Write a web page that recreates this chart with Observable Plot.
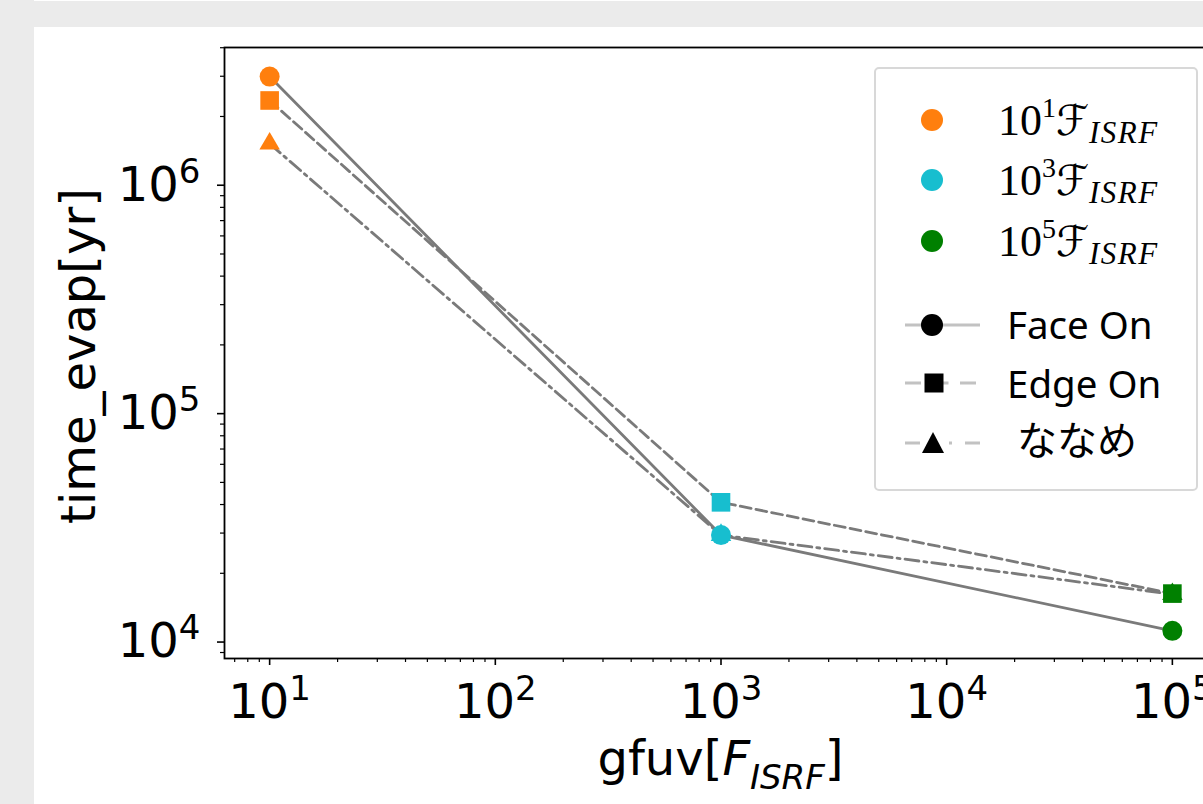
<!DOCTYPE html>
<html><head><meta charset="utf-8">
<script src="https://cdn.jsdelivr.net/npm/d3@7"></script>
<script src="https://cdn.jsdelivr.net/npm/@observablehq/plot@0.6"></script>
<style>
html,body{margin:0;padding:0;width:1203px;height:804px;overflow:hidden;background:#ebebeb;}
#topline{position:absolute;left:34px;top:0;width:1169px;height:1px;background:#fff;}
#panel{position:absolute;left:34px;top:27px;width:1169px;height:777px;background:#fff;}
#chart{position:absolute;left:0;top:0;width:1300px;height:804px;}
#chart svg{max-width:none !important;width:1300px !important;height:804px !important;}
</style></head><body>
<div id="topline"></div><div id="panel"></div><div id="chart"></div>
<script>
// ---- data ----
const gfuv = [10, 1000, 100000];
const faceOn = [2.99e6, 2.94e4, 1.12e4];
const edgeOn = [2.35e6, 4.09e4, 1.63e4];
const naname = [1.52e6, 2.94e4, 1.62e4];
const seriesNames = ["Face On", "Edge On", "ななめ"];
const levelColors = ["#ff7f0e", "#17becf", "#008000"];
const levelExponents = ["1", "3", "5"];
const xMajorTicks = [10, 100, 1000, 10000, 100000];
const yMajorTicks = [1e4, 1e5, 1e6];
const xLabelText = "gfuv[";
const yLabelText = "time_evap[yr]";

const xDomain = [Math.pow(10, 0.8), Math.pow(10, 5.2)];
const yDomain = [Math.pow(10, 3.928), Math.pow(10, 6.603)];

function minorTicks(domain) {
  const out = [];
  for (let e = -1; e <= 7; e++) for (let m = 2; m <= 9; m++) {
    const v = m * Math.pow(10, e);
    if (v >= domain[0] && v <= domain[1]) out.push(v);
  }
  return out;
}
const xMinorTicks = minorTicks(xDomain);
const yMinorTicks = minorTicks(yDomain);

const seriesValues = [faceOn, edgeOn, naname];
const rows = [];
seriesValues.forEach((vals, s) => vals.forEach((v, i) => rows.push({x: gfuv[i], y: v, series: seriesNames[s], level: i})));
const bySeries = name => rows.filter(d => d.series === name);

const lineColor = "#7a7a7a";
const supFmt = d => "10^" + Math.round(Math.log10(d));

const W = 1300, H = 804;
const plot = Plot.plot({
  width: W, height: H,
  marginLeft: 224, marginRight: W - 1217, marginTop: 47, marginBottom: H - 658,
  style: {background: "transparent", fontFamily: "DejaVu Sans", fontSize: "48px", color: "black", overflow: "visible", maxWidth: "none"},
  x: {type: "log", domain: xDomain, axis: null, label: null},
  y: {type: "log", domain: yDomain, axis: null, label: null},
  color: {type: "identity"},
  marks: [
    Plot.line(bySeries("Face On"), {x: "x", y: "y", stroke: lineColor, strokeWidth: 2.8}),
    Plot.line(bySeries("Edge On"), {x: "x", y: "y", stroke: lineColor, strokeWidth: 2.8, strokeDasharray: "11,5"}),
    Plot.line(bySeries("ななめ"), {x: "x", y: "y", stroke: lineColor, strokeWidth: 2.8, strokeDasharray: "14,5,3,5"}),
    Plot.dot(bySeries("ななめ"), {x: "x", y: "y", symbol: "triangle", r: 7.6, fill: d => levelColors[d.level], stroke: null}),
    Plot.dot(bySeries("Edge On"), {x: "x", y: "y", symbol: "square", r: 10.5, fill: d => levelColors[d.level], stroke: null}),
    Plot.dot(bySeries("Face On"), {x: "x", y: "y", symbol: "circle", r: 10, fill: d => levelColors[d.level], stroke: null}),
    Plot.frame({stroke: "black", strokeWidth: 1.8}),
    Plot.axisX({ticks: xMajorTicks, tickFormat: supFmt, anchor: "bottom", tickSize: 7, tickPadding: 18, strokeWidth: 1.6, fontSize: 48, label: null}),
    Plot.axisX({ticks: xMinorTicks, tickFormat: () => "", anchor: "bottom", tickSize: 4, strokeWidth: 1.2, label: null}),
    Plot.axisY({ticks: yMajorTicks, tickFormat: supFmt, anchor: "left", tickSize: 7, tickPadding: 17, strokeWidth: 1.6, fontSize: 48, label: null}),
    Plot.axisY({ticks: yMinorTicks, tickFormat: () => "", anchor: "left", tickSize: 4, strokeWidth: 1.2, label: null})
  ]
});
document.getElementById("chart").appendChild(plot);

// superscripts in tick labels
const svg = d3.select(plot);
svg.selectAll("text").each(function() {
  const t = this.textContent;
  const m = /^10\^(\d+)$/.exec(t);
  if (!m) return;
  while (this.firstChild) this.removeChild(this.firstChild);
  this.appendChild(document.createTextNode("10"));
  const sp = document.createElementNS("http://www.w3.org/2000/svg", "tspan");
  sp.setAttribute("dy", "-18");
  sp.setAttribute("font-size", "34");
  sp.textContent = m[1];
  this.appendChild(sp);
});

// axis labels
svg.append("text")
  .attr("transform", "translate(95,356) rotate(-90)")
  .attr("text-anchor", "middle").attr("font-family", "DejaVu Sans").attr("font-size", 48).attr("fill", "black")
  .text(yLabelText);
const xl = svg.append("text").attr("x", 720.5).attr("y", 775).attr("text-anchor", "middle")
  .attr("font-family", "DejaVu Sans").attr("font-size", 48).attr("fill", "black");
xl.append("tspan").text(xLabelText);
xl.append("tspan").attr("font-style", "italic").text("F");
xl.append("tspan").attr("font-style", "italic").attr("font-size", 34).attr("dy", 14).text("ISRF");
xl.append("tspan").attr("dy", -14).text("]");

// legend
const lg = svg.append("g").attr("text-anchor", "start");
lg.append("rect").attr("x", 875).attr("y", 68).attr("width", 322).attr("height", 422).attr("rx", 4)
  .attr("fill", "white").attr("fill-opacity", 0.85).attr("stroke", "#d8d8d8").attr("stroke-width", 2);
const levelY = [120, 180, 241];
levelColors.forEach((c, i) => {
  lg.append("circle").attr("cx", 932).attr("cy", levelY[i]).attr("r", 11).attr("fill", c);
  const t = lg.append("text").attr("x", 998).attr("y", levelY[i] + 15).attr("text-anchor", "start")
    .attr("font-family", "Liberation Serif").attr("font-size", 44).attr("fill", "black");
  t.append("tspan").text("10");
  t.append("tspan").attr("font-size", 28).attr("dy", -18).text(levelExponents[i]);
  t.append("tspan").attr("font-family", "DejaVu Serif, DejaVu Sans, serif").attr("font-style", "italic").attr("font-size", 42).attr("dy", 18).text("ℱ");
  t.append("tspan").attr("font-style", "italic").attr("font-size", 31).attr("dy", 8).attr("letter-spacing", 1.5).text("ISRF");
});
const legLine = "#c2c2c2";
// Face On
lg.append("line").attr("x1", 905).attr("x2", 980).attr("y1", 325).attr("y2", 325).attr("stroke", legLine).attr("stroke-width", 3);
lg.append("circle").attr("cx", 932).attr("cy", 325).attr("r", 11).attr("fill", "black");
// Edge On
lg.append("line").attr("x1", 905).attr("x2", 980).attr("y1", 383).attr("y2", 383).attr("stroke", legLine).attr("stroke-width", 3).attr("stroke-dasharray", "16,11.5");
lg.append("path").attr("d", d3.symbol(d3.symbolSquare, 19 * 19)()).attr("transform", "translate(934,383)").attr("fill", "black");
// ななめ
lg.append("line").attr("x1", 905).attr("x2", 980).attr("y1", 443).attr("y2", 443).attr("stroke", legLine).attr("stroke-width", 3).attr("stroke-dasharray", "15,29,3,13");
lg.append("path").attr("d", "M933,432L944,453L922,453Z").attr("fill", "black");

const legTextY = [339, 398, 455];
seriesNames.forEach((n, i) => {
  lg.append("text").attr("x", i === 2 ? 1017 : 1007).attr("y", legTextY[i]).attr("text-anchor", "start")
    .attr("font-family", i === 2 ? "Noto Sans CJK JP" : "Noto Sans")
    .attr("font-size", i === 2 ? 40 : 38.5).attr("fill", "black").text(n);
});
</script>
</body></html>
